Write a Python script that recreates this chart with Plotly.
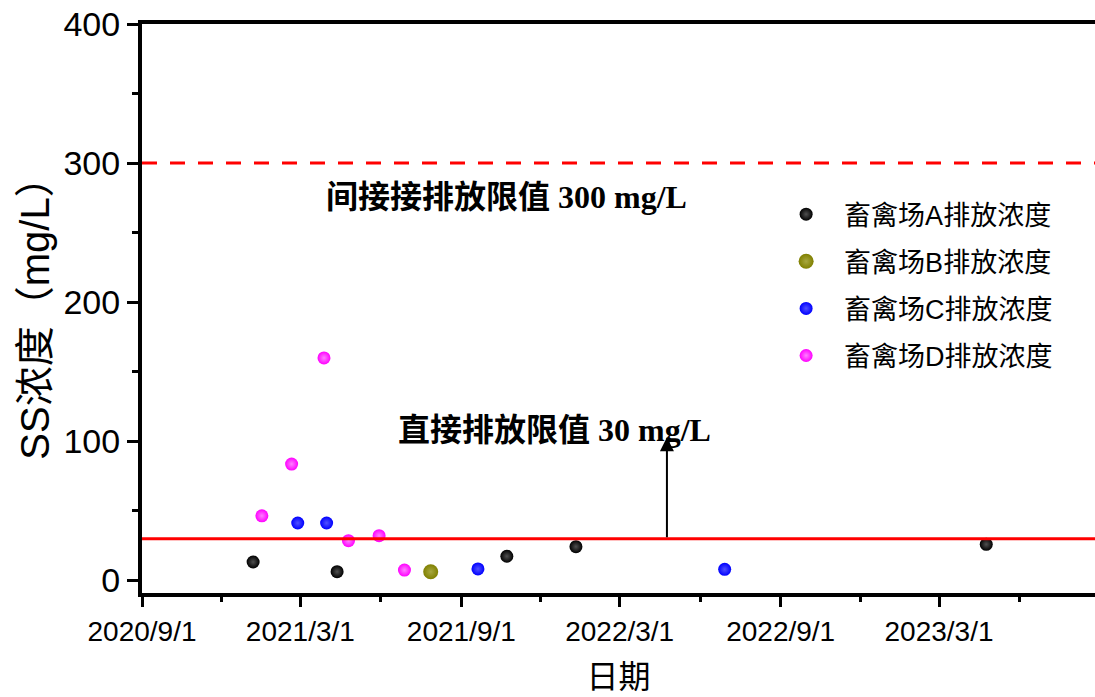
import plotly.graph_objects as go

# Sampling dates and SS concentrations (mg/L) for each farm
farm_a_dates = ["2021-01-06", "2021-04-12", "2021-10-23", "2022-01-10", "2023-04-24"]
farm_a_values = [13.3, 6.3, 17.4, 24.3, 26.0]

farm_b_dates = ["2021-07-28"]
farm_b_values = [6.3]

farm_c_dates = ["2021-02-26", "2021-03-31", "2021-09-20", "2022-06-29"]
farm_c_values = [41.3, 41.3, 8.3, 8.0]

farm_d_dates = ["2021-01-16", "2021-02-19", "2021-03-28", "2021-04-25", "2021-05-30", "2021-06-28"]
farm_d_values = [46.5, 83.7, 160.0, 28.6, 32.2, 7.5]

series_names = ["畜禽场A排放浓度", "畜禽场B排放浓度", "畜禽场C排放浓度", "畜禽场D排放浓度"]
series_colors = ["#000000", "#808000", "#0000FF", "#FF00FF"]
series_shine = ["#505050", "#a8a840", "#5050ff", "#ff80ff"]
series_sizes = [13, 15, 13, 13]

# Discharge limits
indirect_limit = 300
direct_limit = 30
indirect_label = "间接接排放限值 300 mg/L"
direct_label = "直接排放限值 30 mg/L"

# Pointer from the direct-limit line to its label
pointer_date = "2022-04-24"
pointer_top = 103

x_range = ["2020-09-01", "2023-08-26 07:00"]
y_range = [-9, 400]

all_dates = [farm_a_dates, farm_b_dates, farm_c_dates, farm_d_dates]
all_values = [farm_a_values, farm_b_values, farm_c_values, farm_d_values]

fig = go.Figure()

for i, name in enumerate(series_names):
    fig.add_trace(go.Scatter(
        x=all_dates[i], y=all_values[i], mode="markers", name=name,
        legendgroup=name,
        marker=dict(size=series_sizes[i], color=series_colors[i],
                    gradient=dict(type="radial", color=series_shine[i]),
                    line=dict(width=0)),
    ))

# Limit lines
fig.add_shape(type="line", xref="paper", x0=0, x1=1, yref="y", y0=indirect_limit, y1=indirect_limit,
              line=dict(color="#FF0000", width=3, dash="15px,13px"))
fig.add_shape(type="line", xref="paper", x0=0, x1=1, yref="y", y0=direct_limit, y1=direct_limit,
              line=dict(color="#FF0000", width=3))

label_font = dict(family="Liberation Serif, Noto Sans CJK SC", size=32, color="#000000")
fig.add_annotation(text="<b>" + indirect_label + "</b>", xref="paper", x=0.382, yref="y", y=276,
                   showarrow=False, font=label_font)
fig.add_annotation(text="<b>" + direct_label + "</b>", xref="paper", x=0.433, yref="y", y=108,
                   showarrow=False, font=label_font)
fig.add_annotation(x=pointer_date, y=pointer_top, ax=pointer_date, ay=direct_limit,
                   xref="x", yref="y", axref="x", ayref="y", text="",
                   showarrow=True, arrowhead=2, arrowsize=1.4, arrowwidth=2, arrowcolor="#000000")

fig.update_layout(
    width=1095, height=697,
    margin=dict(l=142, r=0, t=24, b=104),
    paper_bgcolor="white", plot_bgcolor="white",
    font=dict(family="Liberation Sans, Arial, Noto Sans CJK SC", color="#000000"),
    showlegend=True,
    legend=dict(
        x=0.657, y=0.708, xanchor="left", yanchor="top",
        bgcolor="rgba(0,0,0,0)", borderwidth=0,
        font=dict(family="Liberation Sans, Noto Sans CJK SC", size=27, color="#000000"),
        tracegroupgap=9, itemwidth=66,
    ),
)

fig.update_xaxes(
    type="date", range=x_range,
    tick0="2020-09-01", dtick="M6", tickformat="%Y/%-m/%-d",
    ticks="outside", ticklen=10, tickwidth=3, tickcolor="#000000",
    minor=dict(tick0="2020-09-01", dtick="M3", ticks="outside", ticklen=5, tickwidth=3,
               tickcolor="#000000", showgrid=False),
    showline=True, linewidth=4, linecolor="#000000", mirror=True,
    showgrid=False, zeroline=False,
    tickfont=dict(family="Liberation Sans, Arial", size=28, color="#000000"),
    title=dict(text="日期", font=dict(family="Noto Sans CJK SC", size=32, color="#000000"), standoff=25),
)

fig.update_yaxes(
    range=y_range, tick0=0, dtick=100,
    ticks="outside", ticklen=11, tickwidth=3, tickcolor="#000000",
    minor=dict(dtick=50, ticks="outside", ticklen=6, tickwidth=3, tickcolor="#000000", showgrid=False),
    showline=True, linewidth=4, linecolor="#000000", mirror=False,
    showgrid=False, zeroline=False,
    tickfont=dict(family="Liberation Sans, Arial", size=34, color="#000000"),
    title=dict(text="SS浓度（mg/L）", font=dict(family="Liberation Sans, Noto Sans CJK SC", size=40, color="#000000"), standoff=2),
)

fig.write_html("out.html")
